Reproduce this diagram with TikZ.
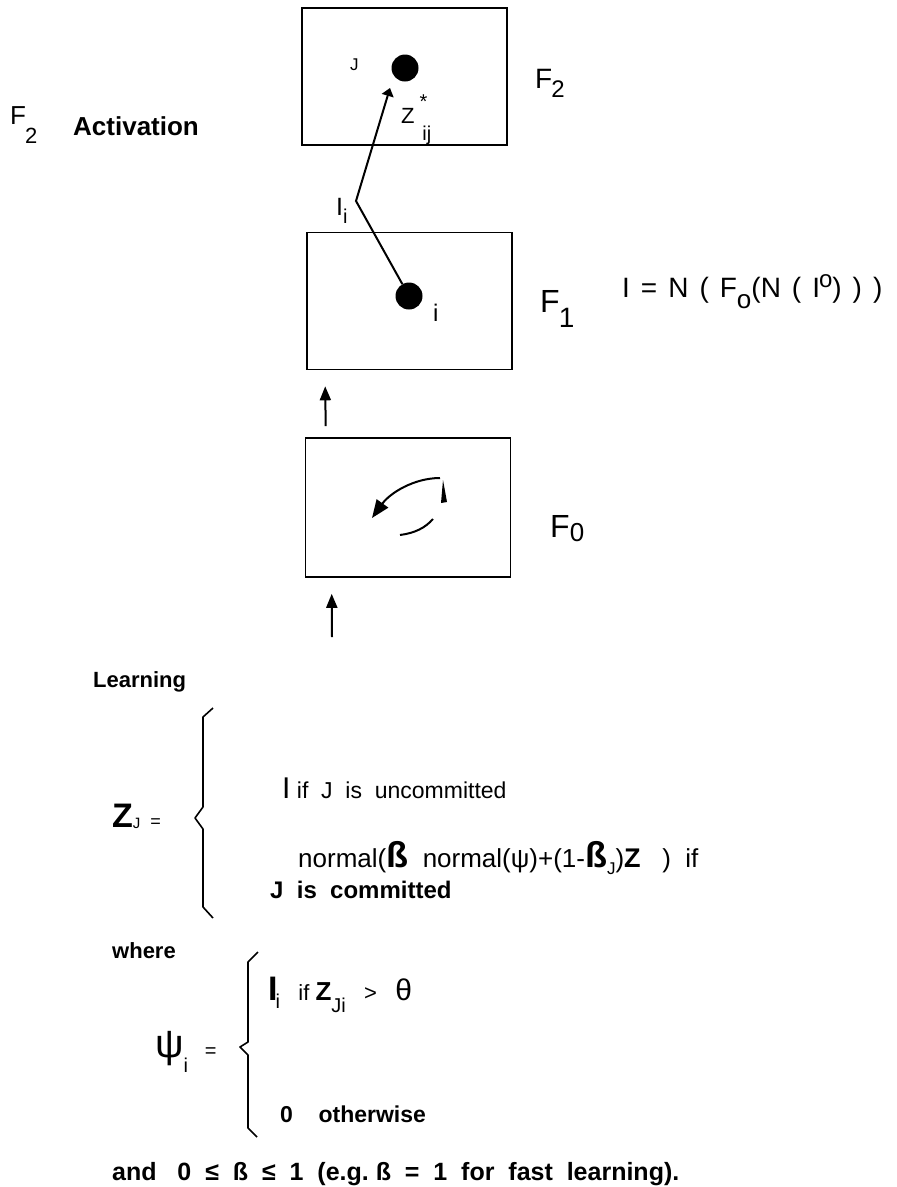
\documentclass[tikz,border=0pt]{standalone}
\usepackage{fontspec}
\setmainfont{Liberation Sans}
\usetikzlibrary{arrows.meta}
\newcommand\fs[1]{\fontsize{#1}{#1}\selectfont}
\newcommand\lo[2]{\raisebox{-#1}{#2}}
\newcommand\gp{\hspace{11pt}}
\begin{document}
\begin{tikzpicture}[x=1pt,y=-1pt,
  box/.style={draw,line width=1.6pt,minimum width=205pt,minimum height=137pt,inner sep=0pt},
  dot/.style={circle,fill=black,minimum size=27pt,inner sep=0pt},
  txt/.style={anchor=base west,inner sep=0pt},
  flow/.style={line width=2pt,-{Triangle[length=14pt,width=11pt]}},
  link/.style={line width=2pt,-{Triangle[length=8pt,width=12pt]}}]
% layers, pixel grid 897 x 1187
\ifx\figlw\undefined\newdimen\figlw\fi
\global\def\figdraw{\draw[line width=\figlw]}
\figlw=2pt
\useasboundingbox (0,0) rectangle (897,1187);
\node[box] (Ftwo) at (404.5,76.5) {};
\node[box] (Fone) at (409.5,301) {};
\node[box,minimum height=139pt] (Fzero) at (408,507.5) {};
\node[dot] (Jdot) at (405,68) {};
\node[dot] (idot) at (409,296) {};
\coordinate (kink) at (356,201);
\coordinate (ztip) at (390,88);
\draw[link] (idot) -- (kink) -- (ztip);
\draw[flow] ([xshift=21pt,yshift=11pt]Fzero.north west) -- ([xshift=19pt,yshift=-16pt]Fone.south west);
\coordinate (inzero) at (332,637);
\draw[flow] (inzero) -- ([xshift=27pt,yshift=-16pt]Fzero.south west);
% loop inside F0
\figdraw[-{Triangle[length=18pt,width=14pt]}] (440,478)
 ..controls (414,478) and (390,493)
 ..(372,518);
\figdraw (400,535)
 ..controls (415,533) and (425,528)
 ..(433,519);
\fill (441,503) -- (447,502) -- (443,480) -- cycle;
% labels
\node[txt,font=\fs{26}] (actF) at (10,124) {F\lo{19pt}{\fs{22}\kern-1pt2}};
\node[txt,font=\bfseries\fs{26}] (act) at (73,135) {Activation};
\node[txt,font=\fs{28}] (lblFtwo) at (535,88) {F\lo{9pt}{\fs{24}\kern-1pt2}};
\node[txt,font=\fs{32}] (lblFone) at (540,312) {F\lo{15pt}{\fs{28}\kern-1pt1}};
\node[txt,font=\fs{32}] (lblFzero) at (550,537) {F\lo{4pt}{\fs{26}\kern0pt0}};
\node[txt,font=\fs{17}] (Jlbl) at (350,70) {J};
\node[txt,font=\fs{22}] (zlbl) at (401,123) {Z\raisebox{15pt}{\fs{20}\kern5pt*}\lo{17pt}{\fs{20}\kern-5pt ij}};
\node[txt,font=\fs{25}] (Ilbl) at (336,215) {I\lo{8pt}{\fs{20}i}};
\node[txt,font=\fs{24}] (ilbl) at (433,321) {i};
\node[txt,font=\fs{28}] (inorm) at (622,297) {I\gp=\gp N\gp(\gp F\lo{11pt}{\fs{26}o}(N\gp(\gp I\raisebox{10pt}{\fs{24}\kern-1pt o})\gp)\gp)};
% learning
\node[txt,font=\bfseries\fs{22}] (learn) at (93,687) {Learning};
\node[txt,font=\fs{18}] (zJ) at (112,827) {{\bfseries\fs{34}Z}\lo{1pt}{\fs{15}J}\ \ =};
\draw[line width=1.6pt,line join=round] (213,708) -- (203,717) -- (203,807) -- (195,818) -- (203,829) -- (203,907) -- (213,918);
\node[txt,font=\fs{23}] (uncom) at (282,798) {{\fs{30}I} if\ \ J\ \ is\ \ uncommitted};
\node[txt,font=\fs{26}] (norm) at (298,867) {normal(\textbf{\fs{36}ß}\ \ normal(ψ)+(1-\textbf{\fs{36}ß}\lo{7pt}{\fs{17}J})\textbf{\fs{27}Z}\ \ \ )\ \ if};
\node[txt,font=\bfseries\fs{24}] (com) at (270,898) {J\ \ is\ \ committed};
% psi
\node[txt,font=\bfseries\fs{22}] (where) at (112,958) {where};
\node[txt,font=\fs{40}] (psi) at (155,1057) {ψ\lo{15pt}{\fs{20}\kern0pt i}\fs{20}\ \ \ =};
\draw[line width=1.6pt,line join=round] (258,952) -- (248,962) -- (248,1042) -- (240,1047) -- (248,1055) -- (248,1128) -- (257,1137);
\node[txt,font=\fs{22}] (ifz) at (268,1000) {{\bfseries\fs{34}I}\lo{8pt}{\fs{20}\kern-2pt i}\ \ \ if\ \textbf{\fs{26}Z}\lo{12pt}{\fs{20}Ji}\ \ \ >\ \ \ {\fs{30}θ}};
\node[txt,font=\bfseries\fs{23}] (other) at (280,1122) {0\ \ \ \ otherwise};
\node[txt,font=\bfseries\fs{25}] (andbeta) at (112,1180) {and\ \ \ 0\ \ ≤\ \ ß\ \ ≤\ \ 1\ \ (e.g.\ ß\ \ =\ \ 1\ \ for\ \ fast\ \ learning).};
\end{tikzpicture}
\end{document}
